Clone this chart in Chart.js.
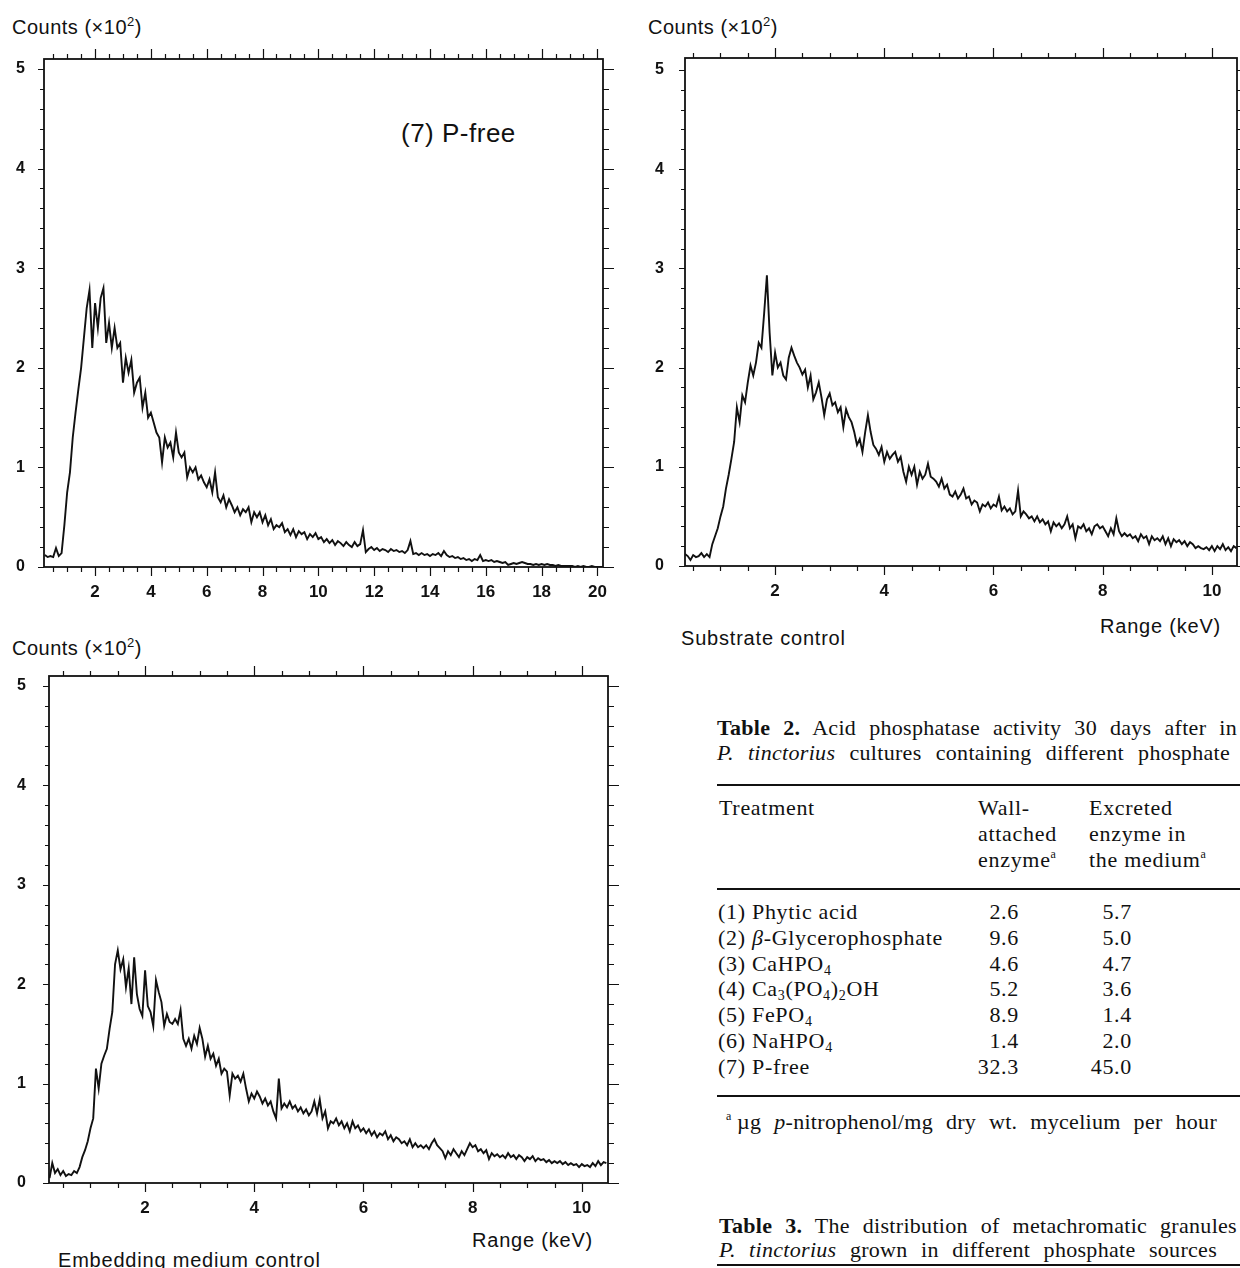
<!DOCTYPE html>
<html>
<head>
<meta charset="utf-8">
<script src="https://cdn.jsdelivr.net/npm/chart.js"></script>
<style>
  html, body { margin: 0; padding: 0; background: #fff; width: 1240px; height: 1268px; overflow: hidden; }
  canvas { position: absolute; }
  .t { position: absolute; white-space: nowrap; color: #111; }
  .sans { font-family: "Liberation Sans", Arial, sans-serif; font-size: 20px; line-height: 24px; letter-spacing: 0.8px; }
  .counts { font-size: 20px; line-height: 22px; letter-spacing: 0.5px; }
  .counts sup { font-size: 13px; line-height: 0; vertical-align: 8px; }
  .serif { font-family: "Liberation Serif", "Times New Roman", serif; font-size: 22px; line-height: 26px; letter-spacing: 0.7px; }
  .serif sub { font-size: 14px; line-height: 0; vertical-align: -4px; }
  .serif sup { font-size: 12px; line-height: 0; vertical-align: 9px; }
  .just { text-align: justify; text-align-last: justify; letter-spacing: 0.3px; }
  .num { text-align: right; }
  .rule { position: absolute; left: 717px; width: 530px; height: 2px; background: #111; }
</style>
</head>
<body>

<div class="t sans counts" style="left:12px; top:16px;">Counts (×10<sup>2</sup>)</div>
<div class="t sans counts" style="left:648px; top:16px;">Counts (×10<sup>2</sup>)</div>
<div class="t sans counts" style="left:12px; top:637px;">Counts (×10<sup>2</sup>)</div>
<div class="t sans" style="left:401px; top:118px; font-size:26px; line-height:30px; letter-spacing:0.5px;">(7) P-free</div>
<div class="t sans" style="left:1100px; top:614px;">Range (keV)</div>
<div class="t sans" style="left:681px; top:626px;">Substrate control</div>
<div class="t sans" style="left:472px; top:1228px;">Range (keV)</div>
<div class="t sans" style="left:58px; top:1248px;">Embedding medium control</div>

<canvas id="pfree"></canvas>
<canvas id="substrate"></canvas>
<canvas id="embedding"></canvas>

<div class="t serif just" style="left:717px; top:715px; width:520px;"><b>Table 2.</b> Acid phosphatase activity 30 days after in</div>
<div class="t serif just" style="left:717px; top:740px; width:513px;"><i>P. tinctorius</i> cultures containing different phosphate</div>
<div class="rule" style="top:784px;"></div>
<div class="t serif" style="left:719px; top:795px;">Treatment</div>
<div class="t serif" style="left:978px; top:795px;">Wall-<br>attached<br>enzyme<sup>a</sup></div>
<div class="t serif" style="left:1089px; top:795px;">Excreted<br>enzyme in<br>the medium<sup>a</sup></div>
<div class="rule" style="top:888px;"></div>
<div id="rows"></div>
<div class="rule" style="top:1095px;"></div>
<div class="t serif" style="left:726px; top:1109px;"><sup>a</sup></div>
<div class="t serif just" style="left:737px; top:1109px; width:480px;">µg <i>p</i>-nitrophenol/mg dry wt. mycelium per hour</div>
<div class="t serif just" style="left:719px; top:1213px; width:518px;"><b>Table 3.</b> The distribution of metachromatic granules</div>
<div class="t serif just" style="left:719px; top:1237px; width:498px;"><i>P. tinctorius</i> grown in different phosphate sources</div>
<div class="rule" style="top:1264px;"></div>

<script>
// (7) P-free spectrum, channels from 0.2 keV every 0.1 keV, counts x100
const pfreeStart = 0.2, pfreeStep = 0.1;
const pfreeCounts = [
  0.12, 0.10, 0.11, 0.10, 0.19, 0.11, 0.14, 0.42, 0.75, 0.95,
  1.30, 1.55, 1.78, 2.00, 2.30, 2.60, 2.78, 2.20, 2.65, 2.40,
  2.70, 2.80, 2.25, 2.45, 2.20, 2.40, 2.20, 2.25, 1.85, 2.10,
  1.95, 2.08, 1.75, 1.85, 1.90, 1.60, 1.75, 1.50, 1.55, 1.45,
  1.35, 1.30, 1.05, 1.30, 1.20, 1.25, 1.10, 1.35, 1.15, 1.10,
  1.15, 0.90, 1.00, 0.95, 1.00, 0.88, 0.92, 0.85, 0.80, 0.88,
  0.75, 0.95, 0.70, 0.65, 0.72, 0.60, 0.68, 0.62, 0.55, 0.60,
  0.52, 0.58, 0.55, 0.60, 0.45, 0.55, 0.50, 0.55, 0.45, 0.52,
  0.42, 0.48, 0.38, 0.42, 0.40, 0.44, 0.35, 0.38, 0.32, 0.38,
  0.30, 0.36, 0.33, 0.35, 0.28, 0.33, 0.30, 0.34, 0.28, 0.30,
  0.25, 0.28, 0.24, 0.27, 0.22, 0.26, 0.24, 0.21, 0.25, 0.22,
  0.20, 0.25, 0.21, 0.23, 0.37, 0.15, 0.18, 0.20, 0.17, 0.19,
  0.16, 0.18, 0.17, 0.15, 0.18, 0.16, 0.17, 0.15, 0.16, 0.14,
  0.17, 0.26, 0.13, 0.14, 0.12, 0.14, 0.12, 0.13, 0.11, 0.13,
  0.12, 0.14, 0.11, 0.16, 0.12, 0.10, 0.11, 0.09, 0.10, 0.08,
  0.09, 0.07, 0.08, 0.06, 0.08, 0.07, 0.12, 0.06, 0.07, 0.06,
  0.07, 0.05, 0.06, 0.05, 0.04, 0.05, 0.02, 0.03, 0.04, 0.03,
  0.04, 0.05, 0.04, 0.03, 0.03, 0.02, 0.03, 0.02, 0.03, 0.02,
  0.03, 0.02, 0.02, 0.01, 0.02, 0.01, 0.01, 0.01, 0.01, 0.01,
  0.00, 0.01, 0.00, 0.01, 0.00, 0.00, 0.01, 0.00, 0.00, 0.00,
  0.00
];

// Substrate control spectrum, channels from 0.35 keV every 0.05 keV
const substrateStart = 0.35, substrateStep = 0.05;
const substrateCounts = [
  0.12, 0.10, 0.06, 0.11, 0.09, 0.10, 0.13, 0.09, 0.12, 0.09,
  0.22, 0.30, 0.38, 0.50, 0.60, 0.78, 0.92, 1.08, 1.25, 1.60,
  1.45, 1.72, 1.65, 1.85, 2.02, 1.92, 2.05, 2.25, 2.20, 2.55,
  2.93, 2.35, 1.92, 2.15, 2.00, 2.05, 1.92, 1.88, 2.10, 2.20,
  2.12, 2.05, 2.00, 1.93, 1.98, 1.80, 1.92, 1.68, 1.75, 1.85,
  1.70, 1.52, 1.68, 1.74, 1.62, 1.65, 1.55, 1.60, 1.40, 1.58,
  1.50, 1.45, 1.35, 1.22, 1.28, 1.15, 1.35, 1.52, 1.35, 1.22,
  1.18, 1.12, 1.20, 1.05, 1.15, 1.08, 1.12, 1.15, 1.05, 1.10,
  0.95, 0.85, 1.00, 0.92, 1.00, 0.82, 0.95, 0.88, 0.92, 1.03,
  0.90, 0.88, 0.85, 0.80, 0.88, 0.78, 0.82, 0.72, 0.70, 0.75,
  0.68, 0.72, 0.78, 0.68, 0.70, 0.62, 0.66, 0.64, 0.55, 0.62,
  0.60, 0.64, 0.58, 0.62, 0.60, 0.70, 0.56, 0.60, 0.55, 0.58,
  0.52, 0.55, 0.76, 0.50, 0.55, 0.52, 0.48, 0.50, 0.45, 0.50,
  0.44, 0.47, 0.42, 0.45, 0.35, 0.44, 0.40, 0.43, 0.38, 0.42,
  0.50, 0.38, 0.42, 0.28, 0.40, 0.38, 0.42, 0.35, 0.38, 0.32,
  0.40, 0.42, 0.38, 0.40, 0.35, 0.30, 0.38, 0.32, 0.48, 0.35,
  0.30, 0.33, 0.30, 0.32, 0.28, 0.30, 0.25, 0.32, 0.28, 0.30,
  0.22, 0.30, 0.26, 0.28, 0.25, 0.30, 0.22, 0.28, 0.20, 0.27,
  0.24, 0.26, 0.22, 0.25, 0.20, 0.24, 0.22, 0.18, 0.20, 0.18,
  0.17, 0.19, 0.16, 0.20, 0.15, 0.20, 0.17, 0.22, 0.16, 0.19,
  0.15, 0.20, 0.18
];

// Embedding medium control spectrum, channels from 0.25 keV every 0.05 keV
const embeddingStart = 0.25, embeddingStep = 0.05;
const embeddingCounts = [
  0.05, 0.20, 0.10, 0.14, 0.08, 0.12, 0.07, 0.09, 0.08, 0.12,
  0.10, 0.16, 0.26, 0.33, 0.42, 0.55, 0.65, 1.15, 0.95, 1.20,
  1.28, 1.35, 1.55, 1.72, 2.20, 2.34, 2.15, 2.25, 1.97, 2.16,
  1.80, 2.27, 1.90, 1.75, 1.68, 2.14, 1.78, 1.72, 1.58, 2.04,
  1.92, 1.82, 1.58, 1.70, 1.62, 1.60, 1.65, 1.60, 1.74, 1.45,
  1.38, 1.45, 1.35, 1.48, 1.40, 1.56, 1.45, 1.27, 1.38, 1.25,
  1.30, 1.18, 1.25, 1.10, 1.15, 1.12, 0.88, 1.10, 1.05, 1.08,
  1.02, 1.10, 0.95, 0.82, 0.90, 0.85, 0.92, 0.87, 0.80, 0.85,
  0.78, 0.82, 0.72, 0.65, 1.05, 0.75, 0.80, 0.76, 0.82, 0.75,
  0.78, 0.72, 0.76, 0.70, 0.74, 0.68, 0.72, 0.82, 0.70, 0.84,
  0.65, 0.72, 0.55, 0.62, 0.60, 0.65, 0.58, 0.62, 0.55, 0.60,
  0.52, 0.62, 0.55, 0.58, 0.52, 0.55, 0.50, 0.54, 0.48, 0.52,
  0.46, 0.50, 0.48, 0.52, 0.44, 0.48, 0.42, 0.46, 0.44, 0.40,
  0.42, 0.38, 0.44, 0.36, 0.40, 0.36, 0.38, 0.35, 0.38, 0.34,
  0.40, 0.44, 0.38, 0.35, 0.32, 0.25, 0.32, 0.28, 0.34, 0.30,
  0.26, 0.32, 0.28, 0.34, 0.40, 0.36, 0.38, 0.32, 0.34, 0.30,
  0.33, 0.24, 0.30, 0.27, 0.29, 0.26, 0.28, 0.25, 0.30, 0.26,
  0.28, 0.24, 0.28, 0.26, 0.22, 0.26, 0.24, 0.27, 0.22, 0.25,
  0.23, 0.24, 0.21, 0.23, 0.20, 0.22, 0.20, 0.22, 0.19, 0.21,
  0.18, 0.20, 0.18, 0.19, 0.16, 0.19, 0.17, 0.18, 0.16, 0.20,
  0.17, 0.22, 0.18, 0.21, 0.20
];

const xTicksWide = [2, 4, 6, 8, 10, 12, 14, 16, 18, 20];
const xTicksNarrow = [2, 4, 6, 8, 10];
const yTicks = [0, 1, 2, 3, 4, 5];

// Table 2
const treatments = [
  "(1) Phytic acid",
  "(2) <i>β</i>-Glycerophosphate",
  "(3) CaHPO<sub>4</sub>",
  "(4) Ca<sub>3</sub>(PO<sub>4</sub>)<sub>2</sub>OH",
  "(5) FePO<sub>4</sub>",
  "(6) NaHPO<sub>4</sub>",
  "(7) P-free"
];
const wallAttached = ["2.6", "9.6", "4.6", "5.2", "8.9", "1.4", "32.3"];
const excreted = ["5.7", "5.0", "4.7", "3.6", "1.4", "2.0", "45.0"];

const rows = document.getElementById("rows");
treatments.forEach(function (name, i) {
    const top = 899 + i * 25.8;
    rows.insertAdjacentHTML("beforeend",
        '<div class="t serif" style="left:718px; top:' + top + 'px;">' + name + '</div>' +
        '<div class="t serif num" style="left:940px; width:79px; top:' + top + 'px;">' + wallAttached[i] + '</div>' +
        '<div class="t serif num" style="left:1050px; width:82px; top:' + top + 'px;">' + excreted[i] + '</div>');
});

Chart.defaults.font.family = '"Liberation Sans", Arial, sans-serif';
Chart.defaults.color = "#111";

// frame with ticks on all four sides: 0.5 keV minor / 2 keV major, 20 counts minor / 100 major
const frameTicks = {
    id: "frameTicks",
    afterDraw(chart) {
        const ctx = chart.ctx;
        const a = chart.chartArea;
        const x = chart.scales.x;
        const y = chart.scales.y;
        ctx.save();
        ctx.strokeStyle = "#111";
        ctx.lineWidth = 1.8;
        ctx.strokeRect(a.left, a.top, a.right - a.left, a.bottom - a.top);
        ctx.lineWidth = 1.2;
        ctx.beginPath();
        for (let k = Math.ceil(x.min * 2); k <= x.max * 2; k++) {
            const px = Math.round(x.getPixelForValue(k / 2)) + 0.5;
            const major = k % 4 === 0;
            ctx.moveTo(px, a.bottom);
            ctx.lineTo(px, a.bottom + (major ? 9 : 5));
            ctx.moveTo(px, a.top);
            ctx.lineTo(px, a.top - (major ? 10 : 5));
        }
        for (let k = 0; k <= y.max * 5; k++) {
            const py = Math.round(y.getPixelForValue(k / 5)) + 0.5;
            const major = k % 5 === 0;
            ctx.moveTo(a.left, py);
            ctx.lineTo(a.left - (major ? 6 : 4), py);
            ctx.moveTo(a.right, py);
            ctx.lineTo(a.right + (major ? 11 : 6), py);
        }
        ctx.stroke();
        ctx.restore();
    }
};

function createSpectrum(id, frame, xMin, xMax, yMax, start, step, counts, xTicks, yPad) {
    const canvas = document.getElementById(id);
    canvas.width = frame.r - frame.l + 65;
    canvas.height = frame.b - frame.t + 65;
    canvas.style.left = (frame.l - 45) + "px";
    canvas.style.top = (frame.t - 20) + "px";
    const points = counts.map(function (c, i) {
        return { x: +(start + i * step).toFixed(2), y: c };
    });
    const config = {
        type: "line",
        data: {
            datasets: [
                {
                    data: points,
                    borderColor: "#111",
                    borderWidth: 1.9,
                    pointRadius: 0,
                    tension: 0,
                },
            ],
        },
        options: {
            responsive: false,
            animation: false,
            layout: { padding: { left: 5, top: 20, right: 20, bottom: 0 } },
            plugins: {
                legend: { display: false },
                tooltip: { enabled: false },
            },
            scales: {
                x: {
                    type: "linear",
                    min: xMin,
                    max: xMax,
                    grid: { display: false, drawTicks: false },
                    border: { display: false },
                    afterBuildTicks: function (s) { s.ticks = xTicks.map(function (v) { return { value: v }; }); },
                    afterFit: function (s) { s.height = 45; s.paddingLeft = 0; s.paddingRight = 0; },
                    ticks: { padding: 15, maxRotation: 0, autoSkip: false, font: { size: 17, weight: "bold" } },
                },
                y: {
                    min: 0,
                    max: yMax,
                    grid: { display: false, drawTicks: false },
                    border: { display: false },
                    afterBuildTicks: function (s) { s.ticks = yTicks.map(function (v) { return { value: v }; }); },
                    afterFit: function (s) { s.width = 40; s.paddingTop = 0; s.paddingBottom = 0; },
                    ticks: { padding: yPad, font: { size: 16, weight: "bold" } },
                },
            },
        },
        plugins: [frameTicks],
    };
    new Chart(canvas, config);
}

createSpectrum("pfree", { l: 44, t: 59, r: 603, b: 567 }, 0.17, 20.2, 5.1,
    pfreeStart, pfreeStep, pfreeCounts, xTicksWide, 19);
createSpectrum("substrate", { l: 685, t: 58, r: 1237, b: 566 }, 0.35, 10.46, 5.12,
    substrateStart, substrateStep, substrateCounts, xTicksNarrow, 21);
createSpectrum("embedding", { l: 49, t: 676, r: 608, b: 1183 }, 0.24, 10.48, 5.1,
    embeddingStart, embeddingStep, embeddingCounts, xTicksNarrow, 23);
</script>
</body>
</html>
